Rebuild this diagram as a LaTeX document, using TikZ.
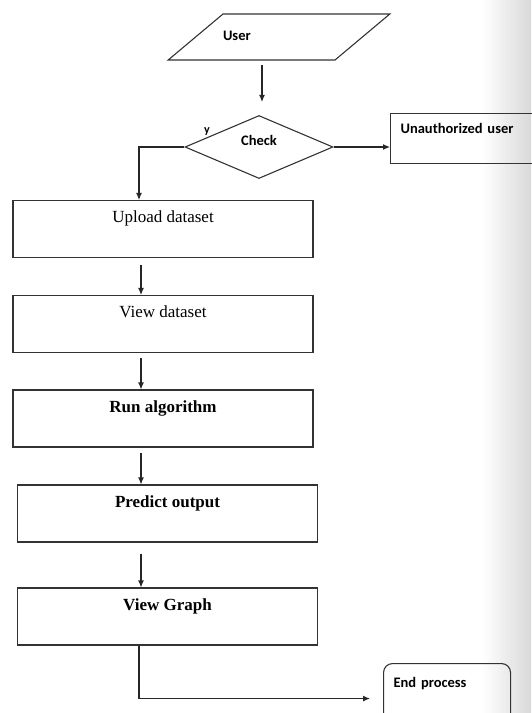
\documentclass[tikz,border=0pt]{standalone}
\usepackage{fontspec}
\setmainfont{Liberation Serif}
\newfontfamily\calfont{Carlito}
\usetikzlibrary{shapes.geometric, arrows.meta}

\begin{document}
\begin{tikzpicture}[
	x=1pt, y=-1pt,
	p/.style = {rectangle, draw=black!80, line width=1.1pt, minimum width=300pt, inner sep=0pt, text height=22pt, text depth=35pt, font=\fontsize{17}{20}\selectfont},
	pb/.style = {p, font=\fontsize{17}{20}\selectfont\bfseries},
	sf/.style = {font=\calfont\bfseries\fontsize{14.5}{17}\selectfont},
	e/.style = {sf, draw=black!80, line width=1.1pt, inner xsep=10pt, inner ysep=0pt, align=left, anchor=north west},
	r/.style = {-{Latex[length=7pt,width=6pt]}, line width=1.1pt, draw=black!85}
	]
	
	\useasboundingbox (0, 0) rectangle (531, 713);
	\shade[left color=white, right color=black!15] (482, 0) rectangle (531, 713);
	
	%Nodes
	\node[sf, trapezium, trapezium left angle=40, trapezium right angle=140, draw=black!80, line width=1.1pt,
		inner sep=0pt, text width=112pt, align=left, text height=26pt, text depth=20pt]	(0)	at	(279, 37)	{User};
	\node[sf, diamond, draw=black!80, line width=1.1pt, minimum width=148pt, minimum height=63pt, inner sep=0pt,
		text height=4pt, text depth=7pt]	(1)	at	(259, 147)	{Check};
	\node[sf, font=\calfont\bfseries\fontsize{12}{14}\selectfont]	(1-y)	at	(207, 132)	{y};
	\node[e, text width=135pt, text height=20pt, text depth=30pt]	(1-r)	at	(390, 113)	{Unauthorized user};
	\node[p]	(2)	at	(163, 229)		{Upload dataset};
	\node[p]	(3)	at	(163, 324)		{View dataset};
	\node[pb]	(4)	at	(163, 418.5)	{Run algorithm};
	\node[pb]	(5)	at	(167.5, 513.5)	{Predict output};
	\node[pb]	(6)	at	(167.5, 616.5)	{View Graph};
	\node[e, rounded corners=9pt, text width=107pt, text height=24pt, text depth=46pt]	(6-r)	at	(383, 663)	{End process};
	
	%Lines
	\draw[r, shorten <=4pt, shorten >=13pt]	([xshift=3pt]1.north |- 0.south)	--	([xshift=3pt]1.north);
	\draw[r]	(1.west)	-|	([xshift=-24pt]2.north);
	\draw[r]	(1.east)	--	(1.east -| 1-r.west);
	\draw[r, shorten <=7pt]	([xshift=-22pt]2.south)	--	([xshift=-22pt]3.north);
	\draw[r, shorten <=5pt]	([xshift=-22pt]3.south)	--	([xshift=-22pt]4.north);
	\draw[r, shorten <=5pt]	([xshift=-22pt]4.south)	--	([xshift=-26.5pt]5.north);
	\draw[r, shorten <=11pt]	([xshift=-26.5pt]5.south)	--	([xshift=-26.5pt]6.north);
	\draw[r, shorten >=13pt]	([xshift=-28.5pt]6.south)	|-	(6-r.west);
	
\end{tikzpicture}
\end{document}
